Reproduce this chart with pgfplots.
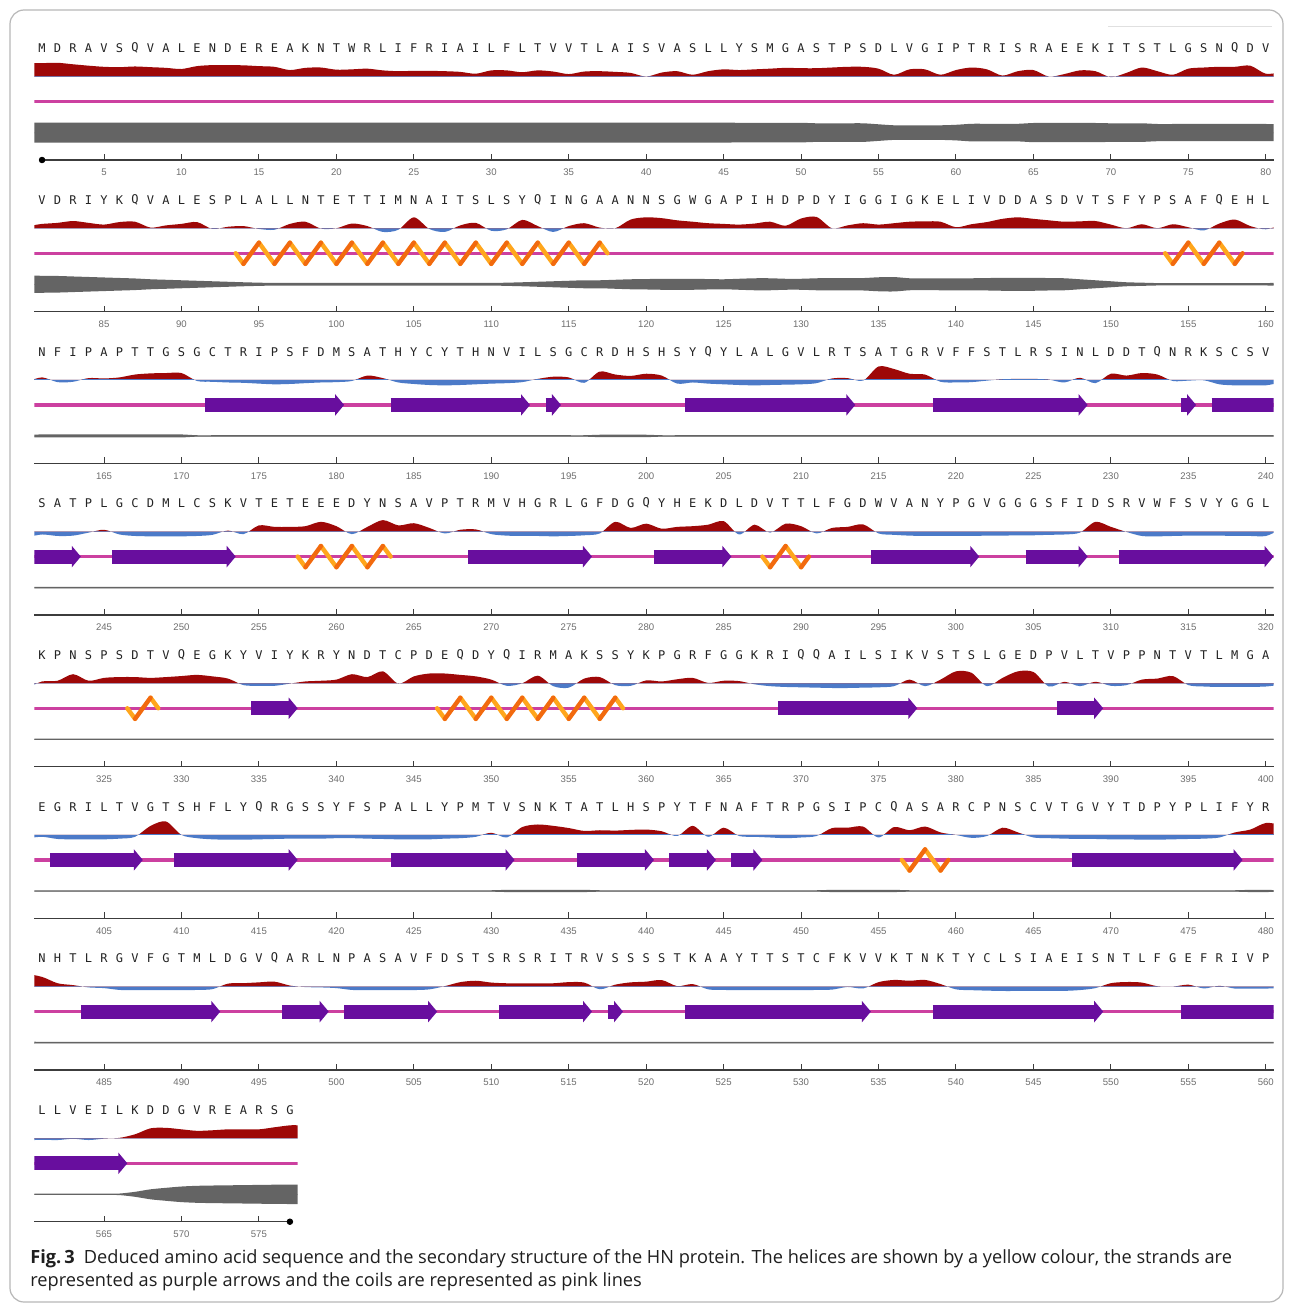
\documentclass[border=0pt]{standalone}
\usepackage{pgfplots}
\pgfplotsset{compat=1.18}
\usepackage{pgfplotstable}
\usetikzlibrary{arrows.meta,decorations}
\usepackage{fontspec}
\setmainfont{Open Sans}
\newfontfamily\seqfont{DejaVu Sans Mono}
\newfontfamily\tickfont{Liberation Sans}

\definecolor{profred}{RGB}{158,8,8}
\definecolor{profblue}{RGB}{76,122,200}
\definecolor{coilpink}{RGB}{204,64,160}
\definecolor{strandpurple}{RGB}{104,14,158}
\definecolor{helixlight}{RGB}{255,166,28}
\definecolor{helixdark}{RGB}{242,106,14}
\definecolor{bandgrey}{RGB}{100,100,100}
\definecolor{rulergrey}{RGB}{60,60,60}
\definecolor{labelgrey}{RGB}{110,110,110}
\definecolor{seqgrey}{RGB}{35,35,35}

% helix ribbon: two interleaved stroke sets (down strokes / up strokes)
\pgfdeclaredecoration{hxdown}{init}{
  \state{init}[width=+.25\pgfdecorationsegmentlength, next state=up]{
    \pgfpathlineto{\pgfqpoint{.25\pgfdecorationsegmentlength}{-\pgfdecorationsegmentamplitude}}}
  \state{up}[switch if less than=+.5\pgfdecorationsegmentlength to endlow, width=+.5\pgfdecorationsegmentlength, next state=down]{
    \pgfpathmoveto{\pgfqpoint{.5\pgfdecorationsegmentlength}{\pgfdecorationsegmentamplitude}}}
  \state{down}[switch if less than=+.5\pgfdecorationsegmentlength to endhigh, width=+.5\pgfdecorationsegmentlength, next state=up]{
    \pgfpathlineto{\pgfqpoint{.5\pgfdecorationsegmentlength}{-\pgfdecorationsegmentamplitude}}}
  \state{endlow}[next state=final]{\pgfpathmoveto{\pgfpointdecoratedpathlast}}
  \state{endhigh}[next state=final]{\pgfpathlineto{\pgfpointdecoratedpathlast}}
  \state{final}{}
}
\pgfdeclaredecoration{hxup}{init}{
  \state{init}[width=+.25\pgfdecorationsegmentlength, next state=up]{
    \pgfpathmoveto{\pgfqpoint{.25\pgfdecorationsegmentlength}{-\pgfdecorationsegmentamplitude}}}
  \state{up}[switch if less than=+.5\pgfdecorationsegmentlength to endlow, width=+.5\pgfdecorationsegmentlength, next state=down]{
    \pgfpathlineto{\pgfqpoint{.5\pgfdecorationsegmentlength}{\pgfdecorationsegmentamplitude}}}
  \state{down}[switch if less than=+.5\pgfdecorationsegmentlength to endhigh, width=+.5\pgfdecorationsegmentlength, next state=up]{
    \pgfpathmoveto{\pgfqpoint{.5\pgfdecorationsegmentlength}{-\pgfdecorationsegmentamplitude}}}
  \state{endlow}[next state=final]{\pgfpathlineto{\pgfpointdecoratedpathlast}}
  \state{endhigh}[next state=final]{\pgfpathmoveto{\pgfpointdecoratedpathlast}}
  \state{final}{}
}

% r = residue, p = hydrophobicity profile, g = half thickness of grey band (px), a = residue letter
\pgfplotstableread[row sep=\\]{
r p g a\\
0.5 11.7 10.0 x\\
1 11.7 10.0 M\\ 2 12.0 10.0 D\\ 3 10.7 10.0 R\\ 4 9.5 10.0 A\\ 5 8.5 10.0 V\\ 6 8.2 10.0 S\\ 7 8.8 10.0 Q\\ 8 8.2 10.0 V\\ 9 7.6 10.0 A\\ 10 6.6 10.0 L\\
11 9.1 10.0 E\\ 12 10.0 10.0 N\\ 13 10.0 10.0 D\\ 14 9.8 10.0 E\\ 15 9.1 10.0 R\\ 16 8.5 10.0 E\\ 17 5.7 10.0 A\\ 18 7.6 10.0 K\\ 19 7.9 10.0 N\\ 20 6.0 10.0 T\\
21 6.3 10.0 W\\ 22 6.9 10.0 R\\ 23 5.4 10.0 L\\ 24 4.7 10.0 I\\ 25 5.0 10.0 F\\ 26 5.0 10.0 R\\ 27 4.7 10.0 I\\ 28 4.1 10.0 A\\ 29 2.5 10.0 I\\ 30 5.4 10.0 L\\
31 5.4 10.0 F\\ 32 3.8 10.0 L\\ 33 5.4 10.0 T\\ 34 4.4 10.0 V\\ 35 2.2 10.0 V\\ 36 4.4 10.0 T\\ 37 4.7 10.0 L\\ 38 4.1 10.0 A\\ 39 3.2 10.0 I\\ 40 0.0 10.0 S\\
41 3.5 10.0 V\\ 42 4.7 10.0 A\\ 43 1.6 10.0 S\\ 44 4.7 10.0 L\\ 45 6.3 10.0 L\\ 46 5.7 9.8 Y\\ 47 6.3 9.8 S\\ 48 6.9 9.8 M\\ 49 7.6 9.8 G\\ 50 7.3 9.8 A\\
51 7.3 9.3 S\\ 52 7.9 9.3 T\\ 53 8.5 9.3 P\\ 54 8.5 9.3 S\\ 55 6.9 8.3 D\\ 56 1.6 7.3 L\\ 57 6.3 7.3 V\\ 58 6.3 7.3 G\\ 59 1.6 7.3 I\\ 60 5.7 7.8 P\\
61 7.9 8.8 T\\ 62 6.3 8.8 R\\ 63 0.9 8.8 I\\ 64 4.7 8.8 S\\ 65 5.7 9.6 R\\ 66 0.0 9.6 A\\ 67 2.2 9.6 E\\ 68 5.4 9.6 E\\ 69 4.7 9.6 K\\ 70 -0.5 9.3 I\\
71 3.2 9.3 T\\ 72 7.9 9.3 S\\ 73 4.7 8.6 T\\ 74 1.6 8.6 L\\ 75 6.9 8.6 G\\ 76 7.9 8.6 S\\ 77 8.5 8.6 N\\ 78 8.5 8.6 Q\\ 79 9.5 8.6 D\\ 80 2.5 8.6 V\\
81 3.8 8.5 V\\ 82 4.7 8.3 D\\ 83 6.3 7.8 R\\ 84 4.7 7.3 I\\ 85 3.2 6.8 Y\\ 86 5.4 6.3 K\\ 87 5.7 5.8 Q\\ 88 0.6 5.0 V\\ 89 2.5 4.5 A\\ 90 3.8 4.0 L\\
91 5.4 3.5 E\\ 92 -0.6 3.0 S\\ 93 1.3 2.5 P\\ 94 1.9 2.0 L\\ 95 -0.6 1.6 A\\ 96 -1.3 1.3 L\\ 97 3.8 1.3 L\\ 98 5.7 1.3 N\\ 99 -0.3 1.3 T\\ 100 0.0 1.3 E\\
101 4.1 1.3 T\\ 102 1.9 1.3 T\\ 103 -3.2 1.3 I\\ 104 -1.3 1.3 M\\ 105 9.5 1.3 N\\ 106 -0.6 1.3 A\\ 107 -3.2 1.3 I\\ 108 2.5 1.3 T\\ 109 4.7 1.3 S\\ 110 -2.2 1.3 L\\
111 -0.9 1.6 S\\ 112 7.3 2.0 Y\\ 113 1.9 2.5 Q\\ 114 -3.2 3.0 I\\ 115 1.9 3.5 N\\ 116 4.4 4.0 G\\ 117 0.6 4.0 A\\ 118 0.0 4.5 A\\ 119 7.6 5.0 N\\ 120 9.5 5.2 N\\
121 8.8 5.5 S\\ 122 6.9 5.5 G\\ 123 5.7 5.5 W\\ 124 4.4 5.2 G\\ 125 3.8 5.0 A\\ 126 3.2 5.5 P\\ 127 4.1 6.0 I\\ 128 5.7 6.0 H\\ 129 2.2 5.5 D\\ 130 8.5 5.5 P\\
131 9.8 6.0 D\\ 132 0.0 6.2 Y\\ 133 2.5 6.2 I\\ 134 4.4 6.2 G\\ 135 3.2 7.0 G\\ 136 4.4 7.2 I\\ 137 5.7 6.0 G\\ 138 6.0 5.8 K\\ 139 5.7 6.0 E\\ 140 0.9 6.0 L\\
141 3.5 6.0 I\\ 142 5.4 6.2 V\\ 143 8.2 6.5 D\\ 144 9.5 6.5 D\\ 145 8.2 6.5 A\\ 146 6.9 6.2 S\\ 147 5.7 6.0 D\\ 148 6.0 5.0 V\\ 149 6.3 4.0 T\\ 150 3.2 3.0 S\\
151 0.0 2.0 F\\ 152 3.5 1.6 Y\\ 153 0.0 1.2 P\\ 154 3.5 1.2 S\\ 155 0.9 1.2 A\\ 156 -1.9 1.2 F\\ 157 4.1 1.2 Q\\ 158 7.6 1.2 E\\ 159 1.9 1.2 H\\ 160 -0.9 1.2 L\\
161 2.2 1.5 N\\ 162 -1.9 1.5 F\\ 163 -1.6 1.5 I\\ 164 1.6 1.5 P\\ 165 1.3 1.5 A\\ 166 2.2 1.5 P\\ 167 4.7 1.5 T\\ 168 5.7 1.5 T\\ 169 6.0 1.5 G\\ 170 6.0 1.5 S\\
171 -0.9 0.7 G\\ 172 -1.6 0.7 C\\ 173 -2.2 0.7 T\\ 174 -2.5 0.7 R\\ 175 -3.2 0.7 I\\ 176 -3.8 0.7 P\\ 177 -3.5 0.7 S\\ 178 -2.8 0.7 F\\ 179 -2.2 0.7 D\\ 180 -1.9 0.7 M\\
181 -0.9 0.7 S\\ 182 3.8 0.7 A\\ 183 1.6 0.7 T\\ 184 -2.2 0.7 H\\ 185 -3.5 0.7 Y\\ 186 -4.4 0.7 C\\ 187 -4.7 0.7 Y\\ 188 -4.4 0.7 T\\ 189 -3.8 0.7 H\\ 190 -3.2 0.7 N\\
191 -2.8 0.7 V\\ 192 -1.9 0.7 I\\ 193 0.9 0.7 L\\ 194 2.8 0.7 S\\ 195 2.2 0.7 G\\ 196 -2.5 0.7 C\\ 197 7.3 1.2 R\\ 198 4.7 1.2 D\\ 199 3.5 1.2 H\\ 200 5.4 1.2 S\\
201 3.8 0.7 H\\ 202 -3.2 0.7 S\\ 203 -2.2 0.7 Y\\ 204 -3.2 0.7 Q\\ 205 -3.8 0.7 Y\\ 206 -4.4 0.7 L\\ 207 -4.7 0.7 A\\ 208 -4.4 0.7 L\\ 209 -4.1 0.7 G\\ 210 -3.8 0.7 V\\
211 -2.8 0.7 L\\ 212 1.3 0.7 R\\ 213 1.6 0.7 T\\ 214 -0.6 0.7 S\\ 215 11.7 0.7 A\\ 216 9.5 0.7 T\\ 217 5.4 0.7 G\\ 218 4.7 0.7 R\\ 219 -1.6 0.7 V\\ 220 -2.2 0.7 F\\
221 -1.9 0.7 F\\ 222 -0.6 0.7 S\\ 223 0.6 0.7 T\\ 224 0.9 0.7 L\\ 225 0.9 0.7 R\\ 226 0.3 0.7 S\\ 227 -2.2 0.7 I\\ 228 1.9 0.7 N\\ 229 -2.8 0.7 L\\ 230 5.4 0.7 D\\
231 3.8 0.7 D\\ 232 6.0 0.7 T\\ 233 4.7 0.7 Q\\ 234 -0.9 0.7 N\\ 235 -0.6 0.7 R\\ 236 -0.3 0.7 K\\ 237 -3.8 0.7 S\\ 238 -4.7 0.7 C\\ 239 -4.7 0.7 S\\ 240 -4.7 0.7 V\\
241 -2.5 0.7 S\\ 242 -3.8 0.7 A\\ 243 -3.5 0.7 T\\ 244 -0.9 0.7 P\\ 245 1.6 0.7 L\\ 246 -2.5 0.7 G\\ 247 -3.8 0.7 C\\ 248 -4.1 0.7 D\\ 249 -4.1 0.7 M\\ 250 -4.1 0.7 L\\
251 -3.8 0.7 C\\ 252 -2.8 0.7 S\\ 253 0.9 0.7 K\\ 254 -2.2 0.7 V\\ 255 5.4 0.7 T\\ 256 4.1 0.7 E\\ 257 4.1 0.7 T\\ 258 4.7 0.7 E\\ 259 8.5 0.7 E\\ 260 4.7 0.7 E\\
261 -2.2 0.7 D\\ 262 4.1 0.7 Y\\ 263 10.0 0.7 N\\ 264 5.4 0.7 S\\ 265 7.3 0.7 A\\ 266 3.2 0.7 V\\ 267 -1.6 0.7 P\\ 268 1.6 0.7 T\\ 269 1.9 0.7 R\\ 270 -2.2 0.7 M\\
271 -3.5 0.7 V\\ 272 -3.8 0.7 H\\ 273 -3.8 0.7 G\\ 274 -4.1 0.7 R\\ 275 -3.8 0.7 L\\ 276 -3.2 0.7 G\\ 277 -1.6 0.7 F\\ 278 8.5 0.7 D\\ 279 3.2 0.7 G\\ 280 6.9 0.7 Q\\
281 2.5 0.7 Y\\ 282 4.1 0.7 H\\ 283 4.7 0.7 E\\ 284 6.0 0.7 K\\ 285 9.1 0.7 D\\ 286 -2.5 0.7 L\\ 287 6.0 0.7 D\\ 288 -0.9 0.7 V\\ 289 6.9 0.7 T\\ 290 4.7 0.7 T\\
291 -1.6 0.7 L\\ 292 3.2 0.7 F\\ 293 4.1 0.7 G\\ 294 6.3 0.7 D\\ 295 -1.6 0.7 W\\ 296 -2.8 0.7 V\\ 297 -3.5 0.7 A\\ 298 -3.8 0.7 N\\ 299 -3.8 0.7 Y\\ 300 -3.8 0.7 P\\
301 -3.8 0.7 G\\ 302 -3.5 0.7 V\\ 303 -3.5 0.7 G\\ 304 -3.2 0.7 G\\ 305 -3.2 0.7 G\\ 306 -2.8 0.7 S\\ 307 -2.5 0.7 F\\ 308 -0.9 0.7 I\\ 309 8.5 0.7 D\\ 310 4.1 0.7 S\\
311 -0.3 0.7 R\\ 312 -3.8 0.7 V\\ 313 -4.1 0.7 W\\ 314 -3.8 0.7 F\\ 315 -3.5 0.7 S\\ 316 -3.5 0.7 V\\ 317 -3.5 0.7 Y\\ 318 -3.8 0.7 G\\ 319 -3.8 0.7 G\\ 320 -3.8 0.7 L\\
321 1.6 0.7 K\\ 322 2.2 0.7 P\\ 323 7.9 0.7 N\\ 324 2.2 0.7 S\\ 325 4.7 0.7 P\\ 326 5.4 0.7 S\\ 327 5.4 0.7 D\\ 328 4.7 0.7 T\\ 329 5.4 0.7 V\\ 330 6.3 0.7 Q\\
331 7.3 0.7 E\\ 332 6.0 0.7 G\\ 333 4.1 0.7 K\\ 334 -1.6 0.7 Y\\ 335 -2.2 0.7 V\\ 336 -2.2 0.7 I\\ 337 -0.3 0.7 Y\\ 338 1.6 0.7 K\\ 339 2.2 0.7 R\\ 340 3.2 0.7 Y\\
341 7.9 0.7 N\\ 342 5.4 0.7 D\\ 343 10.4 0.7 T\\ 344 -0.3 0.7 C\\ 345 6.0 0.7 P\\ 346 8.5 0.7 D\\ 347 8.5 0.7 E\\ 348 7.3 0.7 Q\\ 349 6.0 0.7 D\\ 350 3.2 0.7 Y\\
351 -2.2 0.7 Q\\ 352 0.0 0.7 I\\ 353 6.6 0.7 R\\ 354 -2.5 0.7 M\\ 355 -3.8 0.7 A\\ 356 4.1 0.7 K\\ 357 5.4 0.7 S\\ 358 -1.6 0.7 S\\ 359 -2.2 0.7 Y\\ 360 2.5 0.7 K\\
361 1.6 0.7 P\\ 362 3.5 0.7 G\\ 363 4.7 0.7 R\\ 364 0.3 0.7 F\\ 365 2.2 0.7 G\\ 366 1.9 0.7 G\\ 367 -0.9 0.7 K\\ 368 -2.5 0.7 R\\ 369 -3.2 0.7 I\\ 370 -3.5 0.7 Q\\
371 -3.8 0.7 Q\\ 372 -4.1 0.7 A\\ 373 -4.1 0.7 I\\ 374 -3.8 0.7 L\\ 375 -3.5 0.7 S\\ 376 -2.5 0.7 I\\ 377 3.2 0.7 K\\ 378 -2.5 0.7 V\\ 379 3.2 0.7 S\\ 380 10.4 0.7 T\\
381 9.1 0.7 S\\ 382 -2.5 0.7 L\\ 383 4.7 0.7 G\\ 384 10.4 0.7 E\\ 385 9.8 0.7 D\\ 386 -2.8 0.7 P\\ 387 1.3 0.7 V\\ 388 -2.5 0.7 L\\ 389 1.3 0.7 T\\ 390 -2.2 0.7 V\\
391 -1.6 0.7 P\\ 392 3.2 0.7 P\\ 393 4.1 0.7 N\\ 394 6.3 0.7 T\\ 395 -1.6 0.7 V\\ 396 -2.8 0.7 T\\ 397 -3.2 0.7 L\\ 398 -3.2 0.7 M\\ 399 -3.2 0.7 G\\ 400 -2.8 0.7 A\\
401 -1.6 0.7 E\\ 402 -3.5 0.7 G\\ 403 -3.8 0.7 R\\ 404 -3.8 0.7 I\\ 405 -3.8 0.7 L\\ 406 -3.2 0.7 T\\ 407 -1.6 0.7 V\\ 408 7.9 0.7 G\\ 409 11.7 0.7 T\\ 410 0.0 0.7 S\\
411 -2.8 0.7 H\\ 412 -3.8 0.7 F\\ 413 -4.1 0.7 L\\ 414 -4.1 0.7 Y\\ 415 -3.8 0.7 Q\\ 416 -3.5 0.7 R\\ 417 -3.2 0.7 G\\ 418 -3.2 0.7 S\\ 419 -3.2 0.7 S\\ 420 -2.8 0.7 Y\\
421 -2.8 0.7 F\\ 422 -3.2 0.7 S\\ 423 -3.5 0.7 P\\ 424 -3.8 0.7 A\\ 425 -3.8 0.7 L\\ 426 -3.8 0.7 L\\ 427 -3.2 0.7 Y\\ 428 -2.8 0.7 P\\ 429 -1.6 0.7 M\\ 430 1.9 0.7 T\\
431 -2.2 1.1 V\\ 432 6.9 1.1 S\\ 433 9.1 1.1 N\\ 434 7.9 1.1 K\\ 435 6.0 1.1 T\\ 436 3.5 1.1 A\\ 437 4.1 0.7 T\\ 438 3.8 0.7 L\\ 439 4.4 0.7 H\\ 440 4.7 0.7 S\\
441 3.2 0.7 P\\ 442 -0.9 0.7 Y\\ 443 7.9 0.7 T\\ 444 -1.6 0.7 F\\ 445 6.3 0.7 N\\ 446 -0.9 0.7 A\\ 447 -1.6 0.7 F\\ 448 -2.2 0.7 T\\ 449 -2.8 0.7 R\\ 450 -2.2 0.7 P\\
451 -0.9 0.7 G\\ 452 6.0 1.1 S\\ 453 6.3 1.1 I\\ 454 7.3 1.1 P\\ 455 -2.2 1.1 C\\ 456 6.9 1.1 Q\\ 457 4.1 0.7 A\\ 458 7.3 0.7 S\\ 459 2.2 0.7 A\\ 460 0.0 0.7 R\\
461 -2.5 0.7 C\\ 462 -0.9 0.7 P\\ 463 6.3 0.7 N\\ 464 2.2 0.7 S\\ 465 -2.2 0.7 C\\ 466 -2.8 0.7 V\\ 467 -3.2 0.7 T\\ 468 -3.5 0.7 G\\ 469 -3.5 0.7 V\\ 470 -3.8 0.7 Y\\
471 -3.8 0.7 T\\ 472 -4.1 0.7 D\\ 473 -4.1 0.7 P\\ 474 -3.8 0.7 Y\\ 475 -3.5 0.7 P\\ 476 -3.2 0.7 L\\ 477 -2.2 0.7 I\\ 478 2.2 0.7 F\\ 479 4.7 1.1 Y\\ 480 10.4 1.1 R\\
481 8.4 0.7 N\\ 482 2.9 0.7 H\\ 483 1.3 0.7 T\\ 484 -0.7 0.7 L\\ 485 -1.3 0.7 R\\ 486 -2.9 0.7 G\\ 487 -3.1 0.7 V\\ 488 -3.1 0.7 F\\ 489 -3.1 0.7 G\\ 490 -3.1 0.7 T\\
491 -2.9 0.7 M\\ 492 -2.2 0.7 L\\ 493 2.6 0.7 D\\ 494 3.0 0.7 G\\ 495 3.7 0.7 V\\ 496 4.3 0.7 Q\\ 497 0.9 0.7 A\\ 498 -0.4 0.7 R\\ 499 -0.7 0.7 L\\ 500 -1.3 0.7 N\\
501 -2.9 0.7 P\\ 502 -3.1 0.7 A\\ 503 -3.1 0.7 S\\ 504 -3.1 0.7 A\\ 505 -3.0 0.7 V\\ 506 -2.4 0.7 F\\ 507 0.4 0.7 D\\ 508 3.9 0.7 S\\ 509 5.1 0.7 T\\ 510 3.5 0.7 S\\
511 2.9 0.7 R\\ 512 2.9 0.7 S\\ 513 2.9 0.7 R\\ 514 2.9 0.7 I\\ 515 3.9 0.7 T\\ 516 3.5 0.7 R\\ 517 -2.3 0.7 V\\ 518 1.7 0.7 S\\ 519 3.7 0.7 S\\ 520 4.3 0.7 S\\
521 5.7 0.7 S\\ 522 0.4 0.7 T\\ 523 2.2 0.7 K\\ 524 -2.4 0.7 A\\ 525 -2.9 0.7 A\\ 526 -3.1 0.7 Y\\ 527 -3.1 0.7 T\\ 528 -3.1 0.7 T\\ 529 -3.1 0.7 S\\ 530 -3.1 0.7 T\\
531 -2.9 0.7 C\\ 532 -2.6 0.7 F\\ 533 -0.3 0.7 K\\ 534 -1.6 0.7 V\\ 535 3.9 0.7 V\\ 536 5.8 0.7 K\\ 537 5.1 0.7 T\\ 538 5.8 0.7 N\\ 539 2.2 0.7 K\\ 540 -2.4 0.7 T\\
541 -3.1 0.7 Y\\ 542 -3.5 0.7 C\\ 543 -3.8 0.7 L\\ 544 -3.8 0.7 S\\ 545 -3.8 0.7 I\\ 546 -3.8 0.7 A\\ 547 -3.7 0.7 E\\ 548 -3.0 0.7 I\\ 549 -1.3 0.7 S\\ 550 3.0 0.7 N\\
551 4.0 0.7 T\\ 552 3.5 0.7 L\\ 553 0.3 0.7 F\\ 554 0.0 0.7 G\\ 555 1.7 0.7 E\\ 556 -1.6 0.7 F\\ 557 0.7 0.7 R\\ 558 -1.7 0.7 I\\ 559 -1.7 0.7 V\\ 560 -1.7 0.7 P\\
561 -1.3 0.6 L\\ 562 -1.5 0.6 L\\ 563 -0.4 0.6 V\\ 564 -1.5 0.6 E\\ 565 -0.3 0.6 I\\ 566 0.4 0.8 L\\ 567 3.5 2.5 K\\ 568 8.7 5.0 D\\ 569 9.1 6.5 D\\ 570 7.8 7.8 G\\
571 6.5 8.5 V\\ 572 7.0 8.8 R\\ 573 7.8 9.0 E\\ 574 7.8 9.2 A\\ 575 7.8 9.4 R\\ 576 9.6 9.6 S\\ 577 11.3 9.7 G\\
577.5 11.3 9.7 x\\
}\prof

\pgfplotsset{
  profaxis/.style={x=7.745pt, y=0.5pt, hide axis, clip=true},
  rulaxis/.style={
    x=7.745pt, y=0.5pt,
    ymin=-83.4, ymax=34, clip=false,
    anchor=south west,
    axis x line=bottom, axis y line=none, ytick=\empty,
    x axis line style={-, draw=rulergrey, line width=0.75pt},
    xtick distance=5,
    tick align=inside,
    major tick length=3pt,
    tick style={draw=rulergrey, line width=0.5pt},
    /pgf/number format/assume math mode=true,
    /pgf/number format/1000 sep={},
    xticklabel style={font=\tickfont\fontsize{4.8pt}{6pt}\selectfont, text=labelgrey, anchor=center, yshift=-6.3pt},
  },
  coil/.style={draw=coilpink, line width=1.75pt},
  strand/.style={draw=strandpurple, line width=7pt, -{Triangle[width=10.5pt,length=4.5pt]}},
  strandbody/.style={draw=strandpurple, line width=7pt},
  helixA/.style={draw=helixlight, line width=2.2pt, line cap=round, decorate, decoration={hxdown, amplitude=5.3pt, segment length=15.49pt}},
  helixB/.style={draw=helixdark, line width=2.2pt, line cap=round, decorate, decoration={hxup, amplitude=5.3pt, segment length=15.49pt}},
}

% red part of the profile and the grey band: #1 xlo, #2 xhi, #3 baseline y (pt), #4 band centre y (pt)
\newcommand\profrow[4]{%
\begin{axis}[profaxis, xmin=#1, xmax=#2, ymin=0, ymax=40, anchor=south west, at={(17.15pt,-#3pt)}]
  \addplot[fill=profred, draw=none, smooth] table[x=r, y expr=1.15*\thisrow{p}] {\prof} \closedcycle;
\end{axis}
\begin{axis}[profaxis, xmin=#1, xmax=#2, ymin=0, ymax=15, anchor=south west, at={(17.15pt,-#4pt-0.25pt)}]
  \addplot[fill=bandgrey, draw=none, smooth] table[x=r, y expr=\thisrow{g}+0.5] {\prof} \closedcycle;
\end{axis}
\begin{axis}[profaxis, xmin=#1, xmax=#2, ymin=-15, ymax=0, anchor=north west, at={(17.15pt,-#4pt)}]
  \addplot[fill=bandgrey, draw=none, smooth] table[x=r, y expr=-\thisrow{g}] {\prof} \closedcycle;
\end{axis}}
% blue part of the profile and the coil line (inside the lower axis)
\newcommand\lowerbase[2]{%
  \addplot[fill=profblue, draw=none, smooth] table[x=r, y expr=1.15*\thisrow{p}] {\prof} \closedcycle;
  \addplot[coil] coordinates {(#1,-25) (#2,-25)};
}
% a helix from residue boundary #1 to #2
\newcommand\helix[2]{%
  \addplot[helixA] coordinates {(#1,-25) (#2,-25)};
  \addplot[helixB] coordinates {(#1,-25) (#2,-25)};
}
% letters of the sequence: #1 index of first residue, #2 index after the last residue
\newcommand\letters[2]{%
  \addplot[draw=none, mark=none, nodes near coords, point meta=explicit symbolic,
    skip coords between index={0}{#1}, skip coords between index={#2}{579},
    every node near coord/.style={anchor=center, inner sep=0pt, font=\seqfont\fontsize{6pt}{7pt}\selectfont, text=seqgrey}]
    table[x=r, y expr=28.3, meta=a] {\prof};
}

\begin{document}
\begin{tikzpicture}[x=0.5pt, y=0.5pt]
\useasboundingbox (0,0) rectangle (1293,-1305);
\fill[white] (0,0) rectangle (1293,-1305);
\draw[draw=black!28, line width=0.6pt, rounded corners=7pt] (10,-10) rectangle (1283,-1302);
\draw[draw=black!12, line width=0.5pt] (1108,-27) -- (1272,-27);

% ---------------- Row 1 ----------------
\profrow{0.5}{80.5}{38.3}{66.3}
\begin{axis}[profaxis, xmin=0.5, xmax=80.5, ymin=-40, ymax=0, anchor=north west, at={(17.15pt,-38.3pt)}]
\lowerbase{0.5}{80.5}
\end{axis}
\begin{axis}[rulaxis, xmin=1, xmax=80.5, at={(21.025pt,-80pt)}]
\letters{1}{81}
\addplot[only marks, mark=*, mark size=1.4pt, black] coordinates {(1,-83.4)};
\end{axis}

% ---------------- Row 2 ----------------
\profrow{80.5}{160.5}{114.135}{142.135}
\begin{axis}[profaxis, xmin=80.5, xmax=160.5, ymin=-40, ymax=0, anchor=north west, at={(17.15pt,-114.135pt)}]
\lowerbase{80.5}{160.5}
\helix{93.5}{117.5}
\helix{153.5}{158.5}
\end{axis}
\begin{axis}[rulaxis, xmin=80.5, xmax=160.5, at={(17.15pt,-155.835pt)}]
\letters{81}{161}
\end{axis}

% ---------------- Row 3 ----------------
\profrow{160.5}{240.5}{189.97}{217.97}
\begin{axis}[profaxis, xmin=160.5, xmax=240.5, ymin=-40, ymax=0, anchor=north west, at={(17.15pt,-189.97pt)}]
\lowerbase{160.5}{240.5}
\addplot[strand] coordinates {(171.5,-25) (180.5,-25)};
\addplot[strand] coordinates {(183.5,-25) (192.5,-25)};
\addplot[strand] coordinates {(193.5,-25) (194.5,-25)};
\addplot[strand] coordinates {(202.5,-25) (213.5,-25)};
\addplot[strand] coordinates {(218.5,-25) (228.5,-25)};
\addplot[strand] coordinates {(234.5,-25) (235.5,-25)};
\addplot[strandbody] coordinates {(236.5,-25) (240.5,-25)};
\end{axis}
\begin{axis}[rulaxis, xmin=160.5, xmax=240.5, at={(17.15pt,-231.67pt)}]
\letters{161}{241}
\end{axis}

% ---------------- Row 4 ----------------
\profrow{240.5}{320.5}{265.8}{293.8}
\begin{axis}[profaxis, xmin=240.5, xmax=320.5, ymin=-40, ymax=0, anchor=north west, at={(17.15pt,-265.8pt)}]
\lowerbase{240.5}{320.5}
\addplot[strand] coordinates {(240.5,-25) (243.5,-25)};
\addplot[strand] coordinates {(245.5,-25) (253.5,-25)};
\helix{257.5}{263.5}
\addplot[strand] coordinates {(268.5,-25) (276.5,-25)};
\addplot[strand] coordinates {(280.5,-25) (285.5,-25)};
\helix{287.5}{290.5}
\addplot[strand] coordinates {(294.5,-25) (301.5,-25)};
\addplot[strand] coordinates {(304.5,-25) (308.5,-25)};
\addplot[strand] coordinates {(310.5,-25) (320.5,-25)};
\end{axis}
\begin{axis}[rulaxis, xmin=240.5, xmax=320.5, at={(17.15pt,-307.5pt)}]
\letters{241}{321}
\end{axis}

% ---------------- Row 5 ----------------
\profrow{320.5}{400.5}{341.64}{369.64}
\begin{axis}[profaxis, xmin=320.5, xmax=400.5, ymin=-40, ymax=0, anchor=north west, at={(17.15pt,-341.64pt)}]
\lowerbase{320.5}{400.5}
\helix{326.5}{328.5}
\addplot[strand] coordinates {(334.5,-25) (337.5,-25)};
\helix{346.5}{358.5}
\addplot[strand] coordinates {(368.5,-25) (377.5,-25)};
\addplot[strand] coordinates {(386.5,-25) (389.5,-25)};
\end{axis}
\begin{axis}[rulaxis, xmin=320.5, xmax=400.5, at={(17.15pt,-383.34pt)}]
\letters{321}{401}
\end{axis}

% ---------------- Row 6 ----------------
\profrow{400.5}{480.5}{417.475}{445.475}
\begin{axis}[profaxis, xmin=400.5, xmax=480.5, ymin=-40, ymax=0, anchor=north west, at={(17.15pt,-417.475pt)}]
\lowerbase{400.5}{480.5}
\addplot[strand] coordinates {(401.5,-25) (407.5,-25)};
\addplot[strand] coordinates {(409.5,-25) (417.5,-25)};
\addplot[strand] coordinates {(423.5,-25) (431.5,-25)};
\addplot[strand] coordinates {(435.5,-25) (440.5,-25)};
\addplot[strand] coordinates {(441.5,-25) (444.5,-25)};
\addplot[strand] coordinates {(445.5,-25) (447.5,-25)};
\helix{456.5}{459.5}
\addplot[strand] coordinates {(467.5,-25) (478.5,-25)};
\end{axis}
\begin{axis}[rulaxis, xmin=400.5, xmax=480.5, at={(17.15pt,-459.175pt)}]
\letters{401}{481}
\end{axis}

% ---------------- Row 7 ----------------
\profrow{480.5}{560.5}{493.3}{521.3}
\begin{axis}[profaxis, xmin=480.5, xmax=560.5, ymin=-40, ymax=0, anchor=north west, at={(17.15pt,-493.3pt)}]
\lowerbase{480.5}{560.5}
\addplot[strand] coordinates {(483.5,-25) (492.5,-25)};
\addplot[strand] coordinates {(496.5,-25) (499.5,-25)};
\addplot[strand] coordinates {(500.5,-25) (506.5,-25)};
\addplot[strand] coordinates {(510.5,-25) (516.5,-25)};
\addplot[strand] coordinates {(517.5,-25) (518.5,-25)};
\addplot[strand] coordinates {(522.5,-25) (534.5,-25)};
\addplot[strand] coordinates {(538.5,-25) (549.5,-25)};
\addplot[strandbody] coordinates {(554.5,-25) (560.5,-25)};
\end{axis}
\begin{axis}[rulaxis, xmin=480.5, xmax=560.5, at={(17.15pt,-535pt)}]
\letters{481}{561}
\end{axis}

% ---------------- Row 8 ----------------
\profrow{560.5}{577.5}{569.15}{597.15}
\begin{axis}[profaxis, xmin=560.5, xmax=577.5, ymin=-40, ymax=0, anchor=north west, at={(17.15pt,-569.15pt)}]
\lowerbase{560.5}{577.5}
\addplot[strand] coordinates {(560.5,-25) (566.5,-25)};
\end{axis}
\begin{axis}[rulaxis, xmin=560.5, xmax=577, at={(17.15pt,-610.85pt)}]
\letters{561}{578}
\addplot[only marks, mark=*, mark size=1.4pt, black] coordinates {(577,-83.4)};
\end{axis}

\node[anchor=west, inner sep=0pt, font=\fontsize{9.1pt}{10pt}\selectfont, text=black!88] at (30,-1258.3)
  {\textbf{Fig.\,3}\hspace{0.5em}Deduced amino acid sequence and the secondary structure of the HN protein. The helices are shown by a yellow colour, the strands are};
\node[anchor=west, inner sep=0pt, font=\fontsize{9.1pt}{10pt}\selectfont, text=black!88] at (30,-1281.7)
  {represented as purple arrows and the coils are represented as pink lines};
\end{tikzpicture}
\end{document}
